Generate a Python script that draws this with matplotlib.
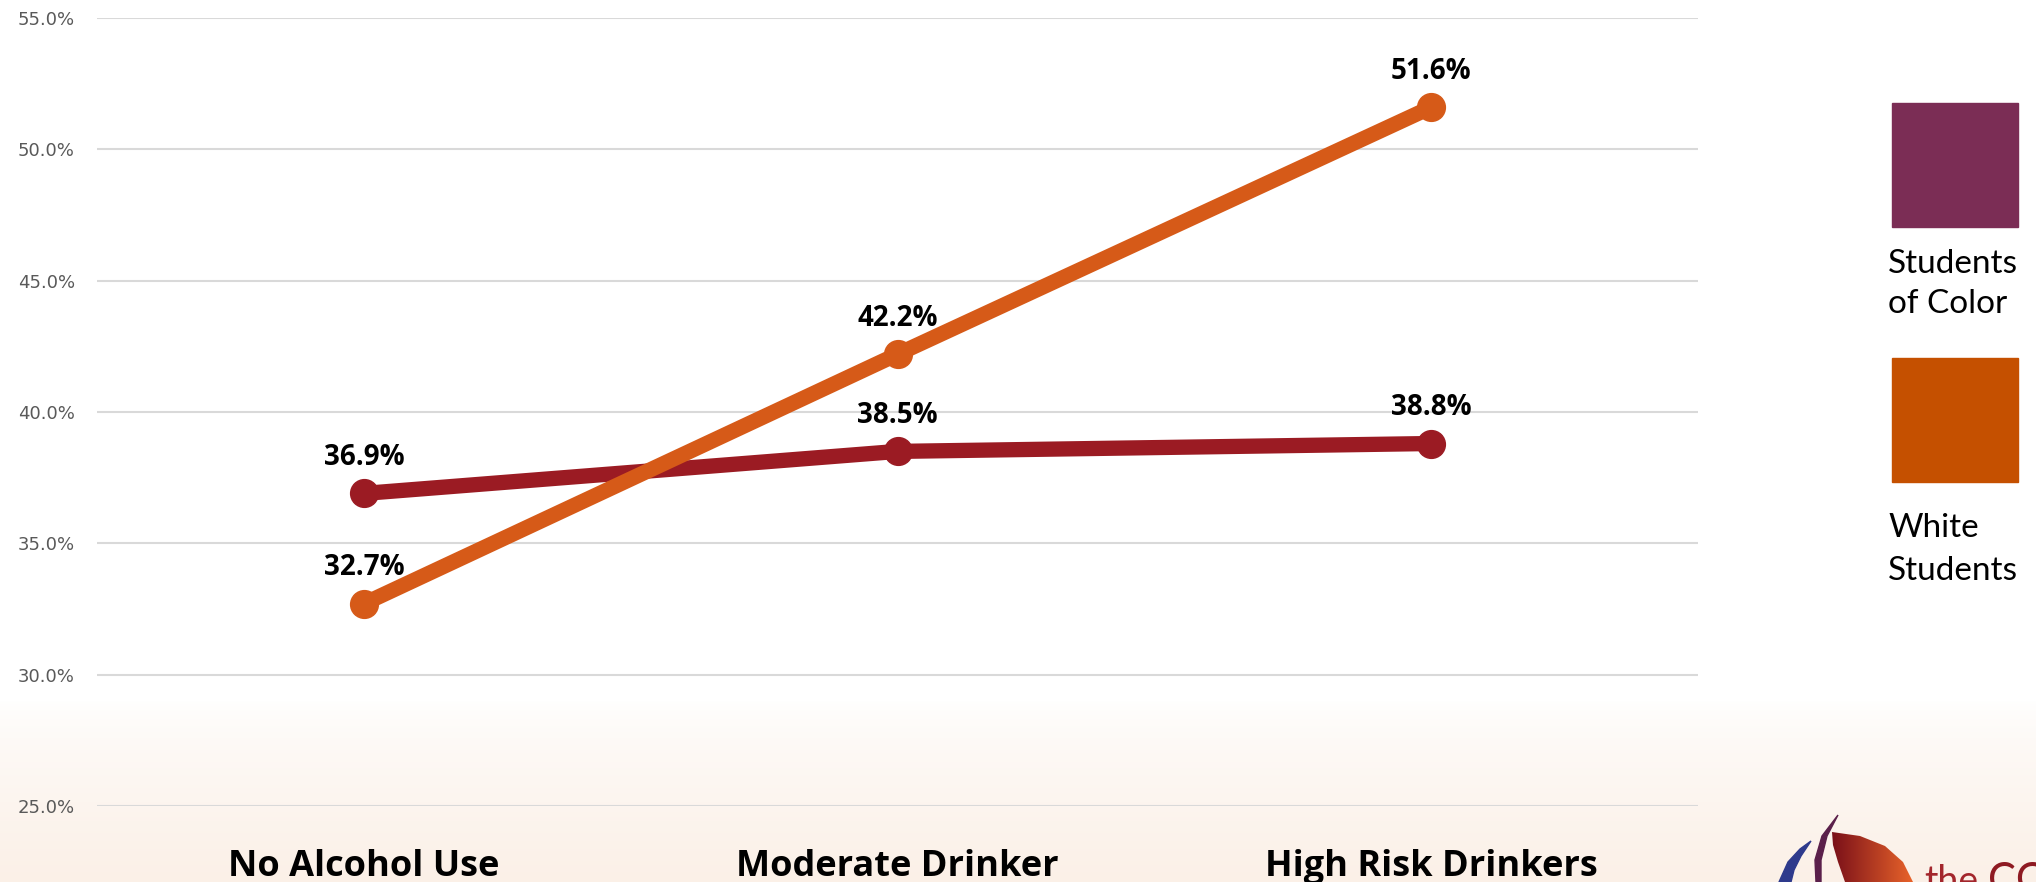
import numpy as np
import matplotlib.pyplot as plt
from matplotlib.patches import Rectangle, Polygon
from matplotlib.ticker import FuncFormatter

categories = ['No Alcohol Use', 'Moderate Drinker', 'High Risk Drinkers']
students_of_color = [36.9, 38.5, 38.8]
white_students = [32.7, 42.2, 51.6]
y_ticks = [25, 30, 35, 40, 45, 50, 55]

W, H = 2036, 882
fig = plt.figure(figsize=(W / 100, H / 100), dpi=100)

# background + decorations in pixel coords
bg = fig.add_axes([0, 0, 1, 1], zorder=0)
grad = np.ones((H, 1, 3))
t = np.clip((np.arange(H) - 700) / (H - 700), 0, 1) ** 0.7
peach = np.array([251, 240, 231]) / 255
grad[:, 0, :] = 1 - t[:, None] * (1 - peach)
bg.imshow(grad, extent=[0, W, H, 0], aspect='auto')
bg.set_xlim(0, W)
bg.set_ylim(H, 0)
bg.axis('off')

# legend squares (colours as in the original slide)
bg.add_patch(Rectangle((1892, 103), 126, 124, color='#7B2D55'))
bg.add_patch(Rectangle((1892, 358), 126, 124, color='#C55000'))
bg.text(1888, 273, 'Students', family='Lato', fontsize=24, va='baseline')
bg.text(1888, 313, 'of Color', family='Lato', fontsize=24, va='baseline')
bg.text(1888, 537, 'White', family='Lato', fontsize=24, va='baseline')
bg.text(1888, 580, 'Students', family='Lato', fontsize=24, va='baseline')

# partial logo, bottom right
bg.add_patch(Polygon([(1779, 882), (1788, 862), (1800, 849), (1811, 841),
                      (1801, 856), (1794, 870), (1791, 882)], color='#2E3A8C'))
bg.add_patch(Polygon([(1816, 882), (1815, 860), (1822, 836), (1838, 815),
                      (1827, 836), (1821, 860), (1821, 882)], color='#5A1F4A'))
wedge = Polygon([(1832, 832), (1860, 836), (1885, 846), (1903, 862), (1913, 882),
                 (1845, 882), (1838, 862), (1833, 845)], closed=True, facecolor='none',
                edgecolor='none')
bg.add_patch(wedge)
lg = np.linspace(0, 1, 100)
c0 = np.array([122, 16, 25]) / 255
c1 = np.array([232, 99, 42]) / 255
wimg = (c0[None, :] * (1 - lg[:, None]) + c1[None, :] * lg[:, None])[None, :, :]
im = bg.imshow(wimg, extent=[1832, 1913, 882, 832], aspect='auto')
im.set_clip_path(wedge)
bg.text(1924, 893, 'the', family='Lato', fontsize=27,
        color='#A3262C', va='baseline')
bg.text(1988, 893, 'CO', family='Lato', fontsize=30, color='#8E1A22', va='baseline')
bg.set_xlim(0, W)
bg.set_ylim(H, 0)

# main chart
ax = fig.add_axes([97 / W, 1 - 806 / H, (1698 - 97) / W, (806 - 18) / H], zorder=1)
ax.patch.set_alpha(0)
x = np.arange(len(categories))

ax.plot(x, students_of_color, color='#9B1B23', lw=11, marker='o', ms=20,
        solid_capstyle='round')
ax.plot(x, white_students, color='#D65A18', lw=11, marker='o', ms=20,
        solid_capstyle='round')

for vals in [students_of_color, white_students]:
    for i, v in enumerate(vals):
        ax.annotate(f'{v:.1f}%', (i, v), xytext=(0, 26), textcoords='offset points',
                    ha='center', va='center', fontsize=20, fontweight='bold',
                    family='Open Sans', color='black')

ax.set_xlim(-0.5, 2.5)
ax.set_ylim(25, 55)
ax.set_yticks(y_ticks)
ax.yaxis.set_major_formatter(FuncFormatter(lambda v, p: f'{v:.1f}%'))
ax.tick_params(axis='y', length=0, pad=16, labelsize=13, labelcolor='#595959')
ax.set_xticks(x)
ax.set_xticklabels(categories, fontsize=26, fontweight='bold', family='Open Sans')
ax.tick_params(axis='x', length=0, pad=44)
for lab in ax.get_xticklabels():
    lab.set_va('center')
ax.grid(axis='y', color='#D9D9D9', lw=1.5)
ax.set_axisbelow(True)
for s in ax.spines.values():
    s.set_visible(False)

fig.savefig('out.png', dpi=100)
